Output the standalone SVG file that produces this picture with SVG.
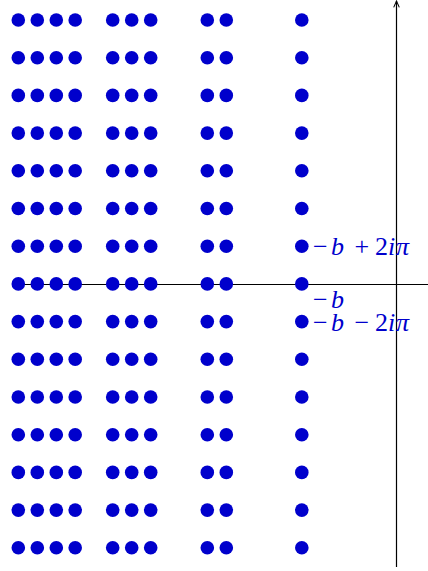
<svg xmlns="http://www.w3.org/2000/svg" width="428" height="571" viewBox="0 0 428 571">
<style>
.ax{stroke:#000;stroke-width:1.2;fill:none}
.d{fill:#0000CC}
.lb{font-family:"Liberation Serif",serif;font-size:26px;fill:#0000CC}
.it{font-style:italic}
</style>
<defs>
<marker id="ah" viewBox="0 0 10 10" refX="9" refY="5" markerWidth="8" markerHeight="8" markerUnits="userSpaceOnUse" orient="auto">
<path d="M1,1.5 L9,5 L1,8.5" fill="none" stroke="#000" stroke-width="1.3"/>
</marker>
<g id="row">
<circle class="d" cx="18.3" cy="0" r="6.8"/>
<circle class="d" cx="37.3" cy="0" r="6.8"/>
<circle class="d" cx="56.3" cy="0" r="6.8"/>
<circle class="d" cx="75.2" cy="0" r="6.8"/>
<circle class="d" cx="112.7" cy="0" r="6.8"/>
<circle class="d" cx="131.7" cy="0" r="6.8"/>
<circle class="d" cx="150.7" cy="0" r="6.8"/>
<circle class="d" cx="207.3" cy="0" r="6.8"/>
<circle class="d" cx="226.3" cy="0" r="6.8"/>
<circle class="d" cx="301.8" cy="0" r="6.8"/>
</g>
</defs>
<g id="connectors">
<line class="ax" x1="18" y1="284.5" x2="428" y2="284.5"/>
<line class="ax" x1="396.5" y1="567" x2="396.5" y2="1" marker-end="url(#ah)"/>
</g>
<g id="dots">
<use href="#row" y="20"/>
<use href="#row" y="57.7"/>
<use href="#row" y="95.4"/>
<use href="#row" y="133.1"/>
<use href="#row" y="170.8"/>
<use href="#row" y="208.5"/>
<use href="#row" y="246.2"/>
<use href="#row" y="283.9"/>
<use href="#row" y="321.6"/>
<use href="#row" y="359.3"/>
<use href="#row" y="397"/>
<use href="#row" y="434.7"/>
<use href="#row" y="472.4"/>
<use href="#row" y="510.1"/>
<use href="#row" y="547.8"/>
</g>
<g id="label-plus">
<text class="lb" y="255"><tspan x="313">−</tspan><tspan class="it" x="331">b</tspan><tspan x="354.5">+</tspan><tspan x="375">2</tspan><tspan class="it" x="388">i</tspan><tspan class="it" x="396">π</tspan></text>
</g>
<g id="label-b">
<text class="lb" y="308"><tspan x="313">−</tspan><tspan class="it" x="331">b</tspan></text>
</g>
<g id="label-minus">
<text class="lb" y="331"><tspan x="313">−</tspan><tspan class="it" x="331">b</tspan><tspan x="354.5">−</tspan><tspan x="375">2</tspan><tspan class="it" x="388">i</tspan><tspan class="it" x="396">π</tspan></text>
</g>
</svg>
